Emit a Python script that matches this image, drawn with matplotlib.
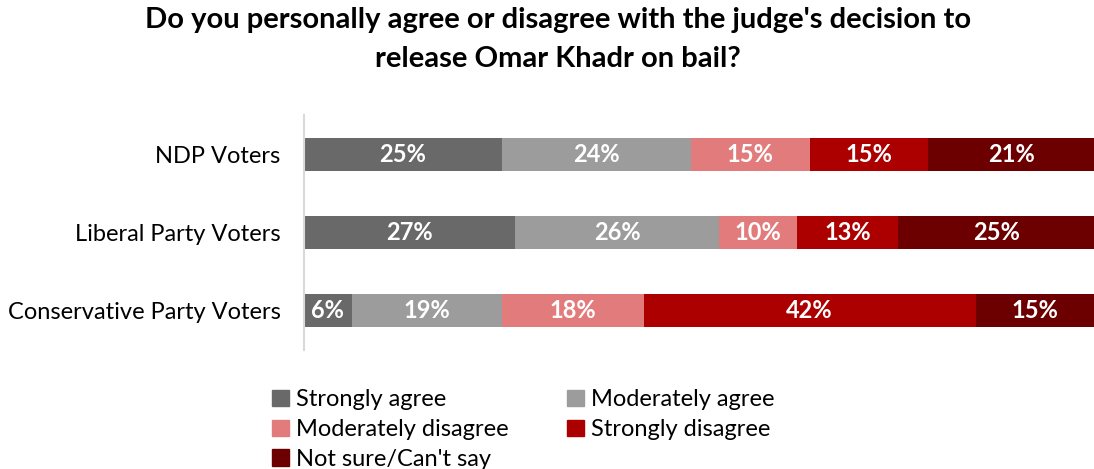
import numpy as np
import matplotlib.pyplot as plt
from matplotlib.patches import Patch

plt.rcParams['font.family'] = ['Lato', 'DejaVu Sans']

groups = ['NDP Voters', 'Liberal Party Voters', 'Conservative Party Voters']
series = ['Strongly agree', 'Moderately agree', 'Moderately disagree',
          'Strongly disagree', "Not sure/Can't say"]
values = np.array([
    [25, 24, 15, 15, 21],
    [27, 26, 10, 13, 25],
    [6, 19, 18, 42, 15],
])
colors = ['#696969', '#9c9c9c', '#e27c7c', '#ac0000', '#6c0000']

fig = plt.figure(figsize=(10.94, 4.69), dpi=100)
ax = fig.add_axes([0.278, 0.254, 0.722, 0.501])

y = np.arange(len(groups))
widths = values / values.sum(axis=1, keepdims=True) * 100
left = np.zeros(len(groups))
for j in range(len(series)):
    ax.barh(y, widths[:, j], left=left, height=0.42, color=colors[j], label=series[j])
    for i in range(len(groups)):
        ax.text(left[i] + widths[i, j] / 2, y[i], f'{values[i, j]}%', ha='center', va='center',
                color='white', fontsize=17, fontweight='bold')
    left += widths[:, j]

ax.set_xlim(0, 100)
ax.set_ylim(len(groups) - 0.5, -0.5)
ax.set_yticks(y)
ax.set_yticklabels(groups, fontsize=17)
ax.set_xticks([])
ax.tick_params(axis='y', length=0, pad=17)
for s in ['top', 'right', 'bottom']:
    ax.spines[s].set_visible(False)
ax.spines['left'].set_color('#d9d9d9')
ax.spines['left'].set_linewidth(1.5)

fig.text(0.51, 0.985, "Do you personally agree or disagree with the judge's decision to\nrelease Omar Khadr on bail?",
         ha='center', va='top', fontsize=21, fontweight='bold', linespacing=1.6)

# row-major order for the legend
order = [0, 2, 4, 1, 3]
handles = [Patch(color=colors[k]) for k in order]
labels = [series[k] for k in order]
fig.legend(handles, labels, loc='upper left', bbox_to_anchor=(0.24, 0.19), ncol=2,
           frameon=False, fontsize=17, handlelength=0.7, handleheight=0.7,
           handletextpad=0.3, columnspacing=2.5, labelspacing=0.37, borderaxespad=0)

fig.savefig('out.png', dpi=100)
